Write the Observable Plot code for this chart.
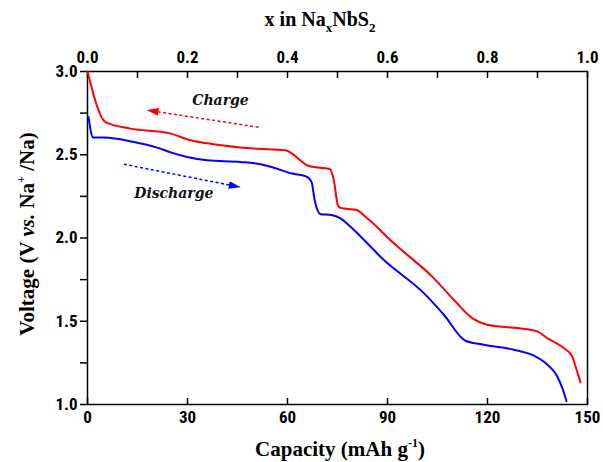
<!DOCTYPE html>
<html><head><meta charset="utf-8">
<script src="https://cdn.jsdelivr.net/npm/d3@7"></script>
<script src="https://cdn.jsdelivr.net/npm/@observablehq/plot@0.6"></script>
<style>body{margin:0;background:#fff}</style>
</head><body><div id="chart"></div>
<script>
// Charge curve (red)
const chargeCap = [0, 5.4, 12.9, 24.4, 30.9, 37.9, 49.9, 59.3, 66.6, 72.7, 73.9, 75.1, 75.9, 80.7, 83.4, 91.9, 103.4, 109.9, 115.4, 119.9, 128.9, 134.9, 137.9, 142.9, 145.4, 146.4, 147.9];
const chargeV   = [3.0, 2.696, 2.657, 2.63, 2.587, 2.563, 2.537, 2.527, 2.431, 2.414, 2.347, 2.198, 2.181, 2.168, 2.128, 1.968, 1.768, 1.629, 1.519, 1.479, 1.459, 1.439, 1.399, 1.339, 1.289, 1.229, 1.133];
// Discharge curve (blue)
const dischargeCap = [0.3, 1.7, 4.9, 13.9, 20.9, 25.4, 29.9, 35.9, 45.9, 51.9, 55.9, 61.4, 65.4, 67.2, 68.2, 69.9, 73.2, 75.9, 78.9, 88.9, 100.9, 106.9, 113.4, 118.9, 127.9, 133.9, 137.9, 140.9, 142.6, 143.7];
const dischargeV   = [2.726, 2.603, 2.603, 2.577, 2.543, 2.511, 2.487, 2.467, 2.457, 2.443, 2.422, 2.387, 2.372, 2.337, 2.222, 2.143, 2.138, 2.118, 2.068, 1.868, 1.669, 1.539, 1.383, 1.359, 1.329, 1.293, 1.240, 1.170, 1.090, 1.020];

const capTicks = [0, 30, 60, 90, 120, 150];
const xNaTicks = [0, 0.1, 0.2, 0.3, 0.4, 0.5, 0.6, 0.7, 0.8, 0.9, 1.0];
const xNaLabeled = [0, 0.2, 0.4, 0.6, 0.8, 1.0];
const capPerNa = 150; // x = 1 in NaxNbS2 ↔ 150 mAh g-1
const vTicks = [1.0, 1.25, 1.5, 1.75, 2.0, 2.25, 2.5, 2.75, 3.0];
const vLabeled = [1.0, 1.5, 2.0, 2.5, 3.0];

const annotations = [
  {cap: 39.9, v: 2.826, text: "Charge"},
  {cap: 25.9, v: 2.268, text: "Discharge"}
];
const arrows = [
  {cap1: 51.3, v1: 2.665, cap2: 19.5, v2: 2.763, color: "#ff0000"},
  {cap1: 10.9, v1: 2.443, cap2: 44.2, v2: 2.312, color: "#0000ff"}
];

const charge = chargeCap.map((c, i) => ({cap: c, v: chargeV[i]}));
const discharge = dischargeCap.map((c, i) => ({cap: c, v: dischargeV[i]}));

const tickFont = "'Liberation Sans Narrow', 'Roboto Condensed', 'DejaVu Sans Condensed', 'Liberation Sans', sans-serif";
const titleFont = "'Liberation Serif', 'DejaVu Serif', serif";

const plot = Plot.plot({
  width: 603, height: 462,
  marginLeft: 87, marginRight: 16, marginTop: 71, marginBottom: 58,
  x: {domain: [0, 150]},
  y: {domain: [1, 3]},
  style: {fontFamily: tickFont, fontSize: "17px", fontWeight: "bold", color: "#000", background: "#fff", overflow: "visible"},
  marks: [
    Plot.axisX(capTicks, {anchor: "bottom", tickSize: -6, tickPadding: 12, label: null, strokeWidth: 1.5}),
    Plot.axisX(xNaTicks.map(d => d * capPerNa), {anchor: "top", tickSize: -6, tickPadding: 15, label: null, strokeWidth: 1.5,
      tickFormat: d => xNaLabeled.some(t => Math.abs(t * capPerNa - d) < 1e-6) ? (d / capPerNa).toFixed(1) : ""}),
    Plot.axisY(vTicks, {anchor: "left", tickSize: 7, tickPadding: 3, label: null, strokeWidth: 1.5,
      tickFormat: d => vLabeled.includes(d) ? d.toFixed(1) : ""}),
    Plot.frame({stroke: "#000", strokeWidth: 1.5}),
    Plot.line(discharge, {x: "cap", y: "v", stroke: "#0000ff", strokeWidth: 2, curve: "monotone-x"}),
    Plot.line(charge, {x: "cap", y: "v", stroke: "#ff0000", strokeWidth: 2, curve: "monotone-x"}),
    Plot.link(arrows, {x1: "cap1", y1: "v1", x2: "cap2", y2: "v2", stroke: "color", strokeWidth: 1.5, strokeDasharray: "3,2.5", markerEnd: "arrow"}),
    Plot.text(annotations, {x: "cap", y: "v", text: "text", fontFamily: "'DejaVu Serif', serif", fontStyle: "italic", fontWeight: "bold", fontSize: 14, fill: "#111"})
  ]
});

// Turn arrow markers into filled triangles
d3.select(plot).selectAll("marker").each(function() {
  const m = d3.select(this);
  const col = m.attr("stroke");
  m.attr("fill", col).attr("stroke", "none").attr("markerWidth", 8).attr("markerHeight", 8);
  m.select("path").attr("d", "M-5,-3.2L5,0L-5,3.2Z").attr("stroke-dasharray", "none");
});

const svg = d3.select(plot);
// Top title: x in NaxNbS2
const t1 = svg.append("text").attr("x", 320).attr("y", 26).attr("text-anchor", "middle")
  .attr("font-family", titleFont).attr("font-weight", "bold").attr("font-size", 20).attr("fill", "#000");
t1.append("tspan").text("x in Na");
t1.append("tspan").attr("font-size", 13).attr("dy", 6).text("x");
t1.append("tspan").attr("dy", -6).text("NbS");
t1.append("tspan").attr("font-size", 13).attr("dy", 6).text("2");

// Bottom title: Capacity (mAh g-1)
const t2 = svg.append("text").attr("x", 340).attr("y", 456).attr("text-anchor", "middle")
  .attr("font-family", titleFont).attr("font-weight", "bold").attr("font-size", 21).attr("fill", "#000");
t2.append("tspan").text("Capacity (mAh g");
t2.append("tspan").attr("font-size", 12).attr("dy", -9).text("-1");
t2.append("tspan").attr("dy", 9).text(")");

// Left title: Voltage (V vs. Na+/Na)
const t3 = svg.append("text").attr("transform", "translate(34,234) rotate(-90)").attr("text-anchor", "middle")
  .attr("font-family", titleFont).attr("font-weight", "bold").attr("font-size", 21).attr("fill", "#000");
t3.append("tspan").text("Voltage (V ");
t3.append("tspan").attr("font-style", "italic").text("vs.");
t3.append("tspan").text(" Na");
t3.append("tspan").attr("font-size", 12).attr("dy", -9).text("+");
t3.append("tspan").attr("dy", 9).text(" /Na)");

document.getElementById("chart").appendChild(plot);
</script>
</body></html>
